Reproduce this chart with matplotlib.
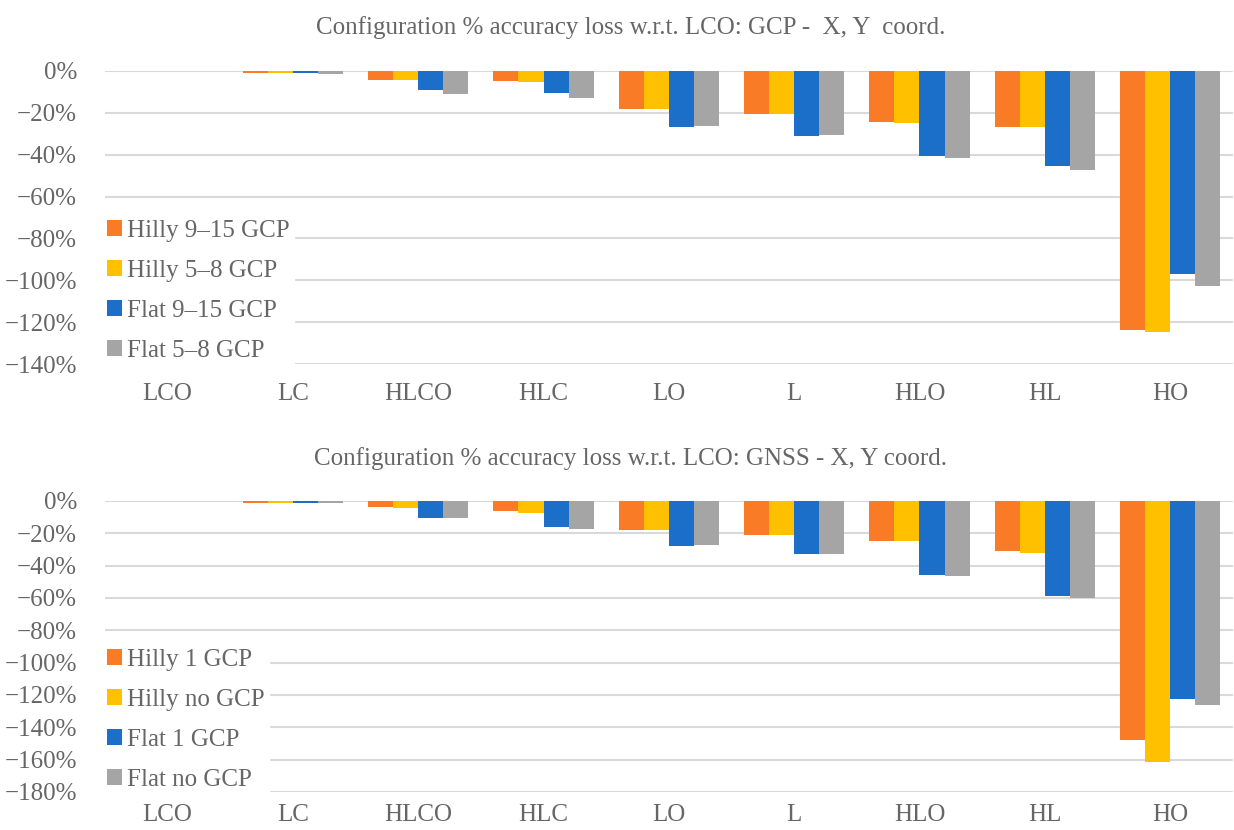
import numpy as np
import matplotlib.pyplot as plt
from matplotlib.ticker import FuncFormatter, MultipleLocator

plt.rcParams['font.family'] = ['Liberation Serif', 'DejaVu Serif']

configs = ['LCO', 'LC', 'HLCO', 'HLC', 'LO', 'L', 'HLO', 'HL', 'HO']
colors = ['#FA7B25', '#FFC000', '#1C6FC9', '#A5A5A5']

# top: GCP
gcp_names = ['Hilly 9–15 GCP', 'Hilly 5–8 GCP', 'Flat 9–15 GCP', 'Flat 5–8 GCP']
hilly_9_15 = [0, -0.8, -4.1, -4.9, -18.3, -20.5, -24.5, -26.7, -123.6]
hilly_5_8 = [0, -0.8, -4.5, -5.1, -18.3, -20.5, -24.8, -27.0, -124.7]
flat_9_15 = [0, -1.0, -9.1, -10.6, -26.7, -30.9, -40.4, -45.3, -97.2]
flat_5_8 = [0, -1.3, -11.0, -12.7, -26.1, -30.4, -41.5, -47.1, -102.5]

# bottom: GNSS
gnss_names = ['Hilly 1 GCP', 'Hilly no GCP', 'Flat 1 GCP', 'Flat no GCP']
hilly_1 = [0, -1.0, -3.7, -6.4, -18.0, -21.1, -24.6, -31.0, -147.9]
hilly_no = [0, -1.0, -4.1, -7.4, -18.0, -21.3, -24.8, -32.2, -161.4]
flat_1 = [0, -1.5, -10.5, -16.3, -27.7, -32.9, -45.7, -58.7, -122.7]
flat_no = [0, -1.0, -10.5, -17.1, -27.3, -32.9, -46.1, -60.1, -126.2]

txt = '#666666'
fs = 18

fig = plt.figure(figsize=(12.34, 8.3), dpi=100)
ax1 = fig.add_axes([0.085, 0.5614, 0.914, 0.3531])
ax2 = fig.add_axes([0.085, 0.0458, 0.914, 0.3506])


def pct(v, pos):
    return ('%d%%' % round(v)).replace('-', '\u2212')


def draw(ax, series, names, ymin, title, ty, leg_y, xpad):
    x = np.arange(len(configs))
    w = 0.2
    for i, s in enumerate(series):
        ax.bar(x + (i - 1.5) * w, s, w, color=colors[i], label=names[i], zorder=2)
    ax.set_xlim(-0.5, len(configs) - 0.5)
    ax.set_ylim(ymin, 0)
    ax.yaxis.set_major_locator(MultipleLocator(20))
    ax.yaxis.set_major_formatter(FuncFormatter(pct))
    ax.grid(axis='y', color='#D9D9D9', linewidth=1.5, zorder=0)
    for sp in ax.spines.values():
        sp.set_visible(False)
    ax.set_xticks(x)
    ax.set_xticklabels(configs)
    ax.tick_params(length=0, labelsize=fs, labelcolor=txt)
    ax.tick_params(axis='y', pad=20)
    ax.tick_params(axis='x', pad=xpad)
    leg = ax.legend(loc='upper left', bbox_to_anchor=(-0.003, leg_y), frameon=True,
                    fontsize=fs, labelcolor=txt, handlelength=0.6, handleheight=0.6,
                    handletextpad=0.2, labelspacing=0.72, borderpad=0.2,
                    borderaxespad=0)
    leg.get_frame().set_edgecolor('white')
    leg.get_frame().set_alpha(1)
    fig.text(0.511, ty, title, ha='center', va='center', fontsize=fs, color=txt)


draw(ax1, [hilly_9_15, hilly_5_8, flat_9_15, flat_5_8], gcp_names, -140,
     'Configuration % accuracy loss w.r.t. LCO: GCP -  X, Y  coord.', 0.967, 0.51, 14)
draw(ax2, [hilly_1, hilly_no, flat_1, flat_no], gnss_names, -180,
     'Configuration % accuracy loss w.r.t. LCO: GNSS - X, Y coord.', 0.448, 0.51, 9)

fig.savefig('out.png', dpi=100)
